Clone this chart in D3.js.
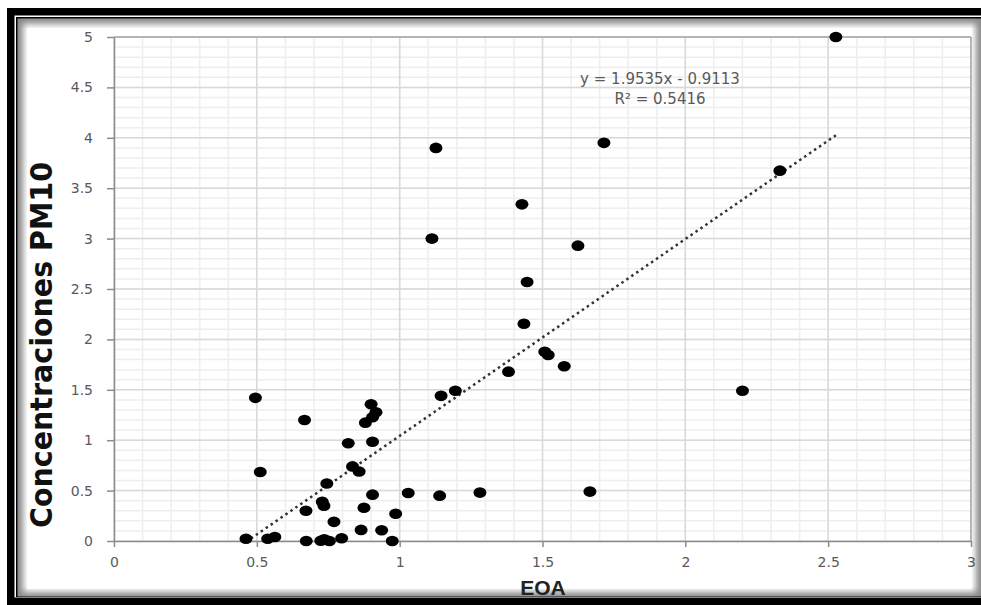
<!DOCTYPE html>
<html>
<head>
<meta charset="utf-8">
<script src="https://cdn.jsdelivr.net/npm/d3@7"></script>
<style>
  body { margin: 0; background: #fff; }
  svg { display: block; }
</style>
</head>
<body>
<div id="chart"></div>
<script>
// EOA (x) and PM10 concentrations (y)
var eoa = [0.462, 0.495, 0.512, 0.538, 0.563, 0.667, 0.673, 0.672, 0.729, 0.735,
  0.745, 0.770, 0.724, 0.736, 0.754, 0.797, 0.820, 0.835, 0.858, 0.875,
  0.865, 0.905, 0.937, 0.974, 0.986, 1.030, 1.140, 0.905, 0.900, 0.917,
  0.905, 0.880, 1.145, 1.195, 1.281, 1.666, 2.200, 1.381, 1.435, 1.508,
  1.520, 1.576, 1.446, 1.624, 1.113, 1.428, 1.127, 1.715, 2.331, 2.527];
var pm10 = [0.023, 1.42, 0.685, 0.023, 0.04, 1.20, 0.0, 0.30, 0.39, 0.35,
  0.57, 0.19, 0.003, 0.017, 0.0, 0.027, 0.97, 0.74, 0.69, 0.33,
  0.11, 0.46, 0.106, 0.0, 0.27, 0.476, 0.45, 0.985, 1.356, 1.277,
  1.227, 1.174, 1.44, 1.49, 0.48, 0.49, 1.49, 1.68, 2.156, 1.878,
  1.845, 1.733, 2.57, 2.93, 3.0, 3.34, 3.90, 3.95, 3.674, 5.0];

var xTicks = [0, 0.5, 1, 1.5, 2, 2.5, 3];
var yTicks = [0, 0.5, 1, 1.5, 2, 2.5, 3, 3.5, 4, 4.5, 5];
var xTickLabels = ["0", "0.5", "1", "1.5", "2", "2.5", "3"];
var yTickLabels = ["0", "0.5", "1", "1.5", "2", "2.5", "3", "3.5", "4", "4.5", "5"];

var slope = 1.9535, intercept = -0.9113;
var eqLines = ["y = 1.9535x - 0.9113", "R\u00b2 = 0.5416"];

var W = 981, H = 605;
var svg = d3.select("#chart").append("svg").attr("width", W).attr("height", H);

var defs = svg.append("defs");
var blur = defs.append("filter").attr("id", "soft").attr("x", "-5%").attr("y", "-5%").attr("width", "110%").attr("height", "110%");
blur.append("feGaussianBlur").attr("stdDeviation", 3);

// frame
svg.append("rect").attr("x", 7).attr("y", 8).attr("width", 1000).attr("height", 597).attr("fill", "black");
svg.append("rect").attr("x", 14.5).attr("y", 15.5).attr("width", 1000).attr("height", 582).attr("fill", "white");
svg.append("rect").attr("x", 16).attr("y", 17).attr("width", 1000).attr("height", 580).attr("fill", "black");
svg.append("rect").attr("x", 17.5).attr("y", 18.5).attr("width", 1000).attr("height", 578).attr("fill", "#8a8a8a");
svg.append("rect").attr("x", 23).attr("y", 24).attr("width", 953).attr("height", 568)
  .attr("fill", "white").attr("filter", "url(#soft)");
svg.append("rect").attr("x", 27).attr("y", 28).attr("width", 945).attr("height", 561).attr("fill", "white");

var x = d3.scaleLinear().domain([0, 3]).range([114, 971]);
var y = d3.scaleLinear().domain([0, 5]).range([541, 37]);

// minor grid
var g = svg.append("g");
g.selectAll(".mx").data(d3.range(1, 30).map(d => d / 10)).enter().append("line")
  .attr("x1", d => x(d)).attr("x2", d => x(d)).attr("y1", y(0)).attr("y2", y(5))
  .attr("stroke", "#eeeeee").attr("stroke-width", 1.5);
g.selectAll(".my").data(d3.range(1, 50).map(d => d / 10)).enter().append("line")
  .attr("y1", d => y(d)).attr("y2", d => y(d)).attr("x1", x(0)).attr("x2", x(3))
  .attr("stroke", "#eeeeee").attr("stroke-width", 1.5);
// major grid
g.selectAll(".Mx").data(xTicks).enter().append("line")
  .attr("x1", d => x(d)).attr("x2", d => x(d)).attr("y1", y(0)).attr("y2", y(5))
  .attr("stroke", "#d9d9d9").attr("stroke-width", 1.5);
g.selectAll(".My").data(yTicks).enter().append("line")
  .attr("y1", d => y(d)).attr("y2", d => y(d)).attr("x1", x(0)).attr("x2", x(3))
  .attr("stroke", "#d9d9d9").attr("stroke-width", 1.5);

// plot border top/right
svg.append("line").attr("x1", x(0)).attr("x2", x(3)).attr("y1", y(5)).attr("y2", y(5)).attr("stroke", "#a6a6a6").attr("stroke-width", 1.5);
svg.append("line").attr("x1", x(3)).attr("x2", x(3)).attr("y1", y(0)).attr("y2", y(5)).attr("stroke", "#a6a6a6").attr("stroke-width", 1.5);

// axes
var xAxis = d3.axisBottom(x).tickValues(xTicks).tickFormat((d, i) => xTickLabels[i]).tickSize(6).tickPadding(10).tickSizeOuter(0);
var yAxis = d3.axisLeft(y).tickValues(yTicks).tickFormat((d, i) => yTickLabels[i]).tickSize(7).tickPadding(14).tickSizeOuter(0);

var gx = svg.append("g").attr("transform", "translate(0," + y(0) + ")").call(xAxis);
var gy = svg.append("g").attr("transform", "translate(" + x(0) + ",0)").call(yAxis);
[gx, gy].forEach(function (a) {
  a.selectAll("path, line").attr("stroke", "#8c8c8c").attr("stroke-width", 1.5);
  a.selectAll("text").attr("fill", "#595959").attr("font-family", "DejaVu Sans, sans-serif").attr("font-size", 14);
});

// trendline
var xs = d3.extent(eoa);
svg.append("line")
  .attr("x1", x(xs[0])).attr("y1", y(slope * xs[0] + intercept))
  .attr("x2", x(xs[1])).attr("y2", y(slope * xs[1] + intercept))
  .attr("stroke", "#333").attr("stroke-width", 2.5).attr("stroke-dasharray", "2.5,3.5");

// points
svg.selectAll(".pt").data(eoa).enter().append("ellipse")
  .attr("cx", d => x(d)).attr("cy", (d, i) => y(pm10[i]))
  .attr("rx", 6.5).attr("ry", 5.3).attr("fill", "black");

// equation
svg.selectAll(".eq").data(eqLines).enter().append("text")
  .text(d => d)
  .attr("x", 660).attr("y", (d, i) => 84 + i * 20)
  .attr("text-anchor", "middle")
  .attr("font-family", "DejaVu Sans, sans-serif").attr("font-size", 15)
  .attr("fill", "#595959");

// axis titles
svg.append("text").text("EOA")
  .attr("x", 543).attr("y", 595).attr("text-anchor", "middle")
  .attr("font-family", "Liberation Sans, Arial, sans-serif").attr("font-weight", "bold")
  .attr("font-size", 21).attr("fill", "#222");

svg.append("text").text("Concentraciones PM10")
  .attr("transform", "translate(52,345) rotate(-90)")
  .attr("text-anchor", "middle")
  .attr("font-family", "Liberation Sans Narrow, DejaVu Sans Condensed, sans-serif").attr("font-weight", "bold")
  .attr("font-size", 31).attr("fill", "#111")
  .attr("textLength", 366).attr("lengthAdjust", "spacingAndGlyphs");
</script>
</body>
</html>
